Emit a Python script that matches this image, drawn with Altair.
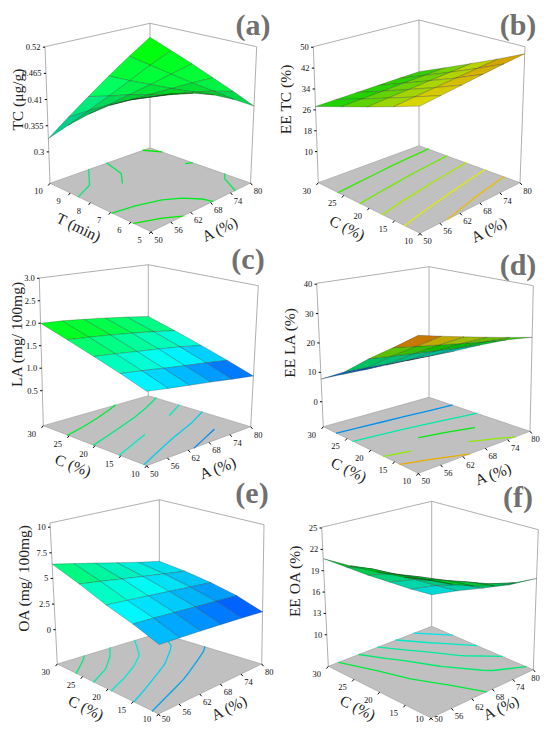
import math
import altair as alt

# ---------------- values ----------------
A_vals = [50, 56, 62, 68, 74, 80]
T_vals = [5, 6, 7, 8, 9, 10]
C_vals = [10, 15, 20, 25, 30]

# response grids: rows = second factor (low -> high), columns = A (50 -> 80)
TC = [
    [0.495, 0.487, 0.472, 0.453, 0.427, 0.396],
    [0.475, 0.466, 0.456, 0.446, 0.432, 0.415],
    [0.448, 0.445, 0.442, 0.440, 0.437, 0.433],
    [0.414, 0.420, 0.427, 0.435, 0.443, 0.452],
    [0.374, 0.391, 0.409, 0.429, 0.450, 0.470],
    [0.328, 0.360, 0.392, 0.425, 0.457, 0.489],
]
EE_TC = [
    [43.4, 44.2, 45.0, 45.9, 46.7, 47.5],
    [39.4, 40.1, 40.7, 41.4, 42.1, 42.8],
    [35.4, 36.0, 36.5, 37.1, 37.6, 38.2],
    [31.4, 31.8, 32.2, 32.7, 33.1, 33.5],
    [27.3, 27.6, 27.9, 28.2, 28.5, 28.8],
]
LA = [
    [1.27, 1.20, 1.13, 1.06, 0.98, 0.90],
    [1.46, 1.40, 1.33, 1.26, 1.19, 1.11],
    [1.64, 1.59, 1.53, 1.47, 1.40, 1.31],
    [1.82, 1.78, 1.73, 1.67, 1.60, 1.51],
    [2.00, 1.97, 1.92, 1.86, 1.79, 1.71],
]
EE_LA = [
    [34.0, 31.8, 29.6, 27.4, 25.2, 23.0],
    [27.5, 26.0, 24.5, 23.0, 21.5, 20.0],
    [21.0, 20.0, 19.0, 18.0, 17.0, 16.0],
    [13.6, 13.2, 12.7, 12.3, 11.8, 11.4],
    [7.7, 7.6, 7.4, 7.3, 7.1, 7.0],
]
OA = [
    [3.20, 2.95, 2.70, 2.42, 2.12, 1.80],
    [4.02, 3.78, 3.52, 3.25, 2.98, 2.70],
    [4.70, 4.45, 4.18, 3.90, 3.60, 3.30],
    [5.60, 5.25, 4.88, 4.50, 4.12, 3.75],
    [6.40, 5.95, 5.48, 5.00, 4.50, 4.05],
]
EE_OA = [
    [23.0, 21.6, 20.4, 19.4, 18.8, 18.3],
    [22.2, 21.0, 19.9, 18.7, 17.4, 16.2],
    [21.6, 20.3, 19.1, 17.6, 16.0, 14.4],
    [21.1, 19.8, 18.2, 16.4, 14.5, 12.6],
    [20.7, 18.7, 16.6, 14.6, 12.5, 10.5],
]

z_ticks_a = [0.3, 0.355, 0.41, 0.465, 0.52]
z_ticks_b = [10, 18, 26, 34, 42, 50]
z_ticks_c = [0.5, 1.0, 1.5, 2.0, 2.5, 3.0]
z_ticks_d = [0, 10, 20, 30, 40]
z_ticks_e = [0, 2.5, 5, 7.5, 10]
z_ticks_f = [10, 13, 16, 19, 22, 25]
z_labels_a = ["0.3", "0.355", "0.41", "0.465", "0.52"]
z_labels_b = ["10", "18", "26", "34", "42", "50"]
z_labels_c = ["0.5", "1.0", "1.5", "2.0", "2.5", "3.0"]
z_labels_d = ["0", "10", "20", "30", "40"]
z_labels_e = ["0", "2.5", "5", "7.5", "10"]
z_labels_f = ["10", "13", "16", "19", "22", "25"]

levels_a = [0.36, 0.39, 0.42, 0.45, 0.478]
levels_b = [30.5, 34.0, 37.5, 41.0, 44.5]
levels_c = [1.83, 1.65, 1.47, 1.29, 1.11]
levels_d = [11.0, 15.5, 20.0, 24.5, 29.0]
levels_e = [5.8, 5.2, 4.6, 4.0, 3.4]
levels_f = [12.2, 14.0, 15.8, 17.7, 19.7]

# ---------------- view (projection) of each panel, page pixels ----------------
panels = [
    dict(tag="(a)", grid=TC, sec=T_vals, sec_title="T (min)", z_title="TC (\u03bcg/g)",
         zt=z_ticks_a, zl=z_labels_a, zr=(0.234, 0.521), cr=(0.139, 0.814), lev=levels_a,
         floor=[(151.0, 231.7), (250.5, 183.0), (150.0, 147.8), (50.0, 183.3)],
         top=[(152.0, 83.7), (256.7, 46.7), (150.0, 23.3), (45.0, 46.7)],
         tag_xy=(253, 26)),
    dict(tag="(b)", grid=EE_TC, sec=C_vals, sec_title="C (%)", z_title="EE TC (%)",
         zt=z_ticks_b, zl=z_labels_b, zr=(-1.9, 50.2), cr=(-1.2, 56.0), lev=levels_b,
         floor=[(420.0, 233.3), (520.0, 182.7), (419.0, 145.7), (318.3, 182.7)],
         top=[(420.0, 87.0), (525.0, 46.7), (419.0, 20.0), (313.3, 46.7)],
         tag_xy=(518, 26)),
    dict(tag="(c)", grid=LA, sec=C_vals, sec_title="C (%)", z_title="LA (mg/ 100mg)",
         zt=z_ticks_c, zl=z_labels_c, zr=(-0.279, 3.006), cr=(0.75, 3.2), lev=levels_c,
         floor=[(146.7, 465.7), (250.7, 426.7), (148.3, 395.7), (43.3, 425.7)],
         top=[(146.7, 308.0), (258.3, 285.7), (148.3, 264.7), (39.3, 278.0)],
         tag_xy=(248, 260)),
    dict(tag="(d)", grid=EE_LA, sec=C_vals, sec_title="C (%)", z_title="EE LA (%)",
         zt=z_ticks_d, zl=z_labels_d, zr=(-8.5, 40.3), cr=(6.8, 34.0), lev=levels_d,
         floor=[(418.3, 473.3), (530.0, 431.3), (429.0, 397.3), (323.3, 426.7)],
         top=[(418.3, 314.9), (533.3, 285.7), (429.0, 266.7), (316.7, 283.3)],
         tag_xy=(518, 266)),
    dict(tag="(e)", grid=OA, sec=C_vals, sec_title="C (%)", z_title="OA (mg/ 100mg)",
         zt=z_ticks_e, zl=z_labels_e, zr=(-3.35, 10.41), cr=(1.2, 13.6), lev=levels_e,
         floor=[(158.5, 714.0), (261.7, 664.0), (159.3, 633.0), (57.3, 664.0)],
         top=[(160.0, 568.0), (264.0, 524.7), (159.3, 499.7), (50.0, 523.0)],
         tag_xy=(252, 494)),
    dict(tag="(f)", grid=EE_OA, sec=C_vals, sec_title="C (%)", z_title="EE OA (%)",
         zt=z_ticks_f, zl=z_labels_f, zr=(5.57, 25.1), cr=(2.7, 41.7), lev=levels_f,
         floor=[(431.0, 718.0), (533.3, 669.7), (431.7, 626.3), (328.3, 666.3)],
         top=[(431.0, 564.0), (538.3, 529.7), (431.7, 501.3), (321.7, 527.3)],
         tag_xy=(518, 498)),
]

SERIF = "Liberation Serif"
YMAX = 718.5   # lowest text centre that still fits the page
XMAX = 535.5   # rightmost small-label centre that still fits the page


def bil(c, u, v):
    F, R, B, L = c
    x = (1 - u) * (1 - v) * F[0] + u * (1 - v) * R[0] + u * v * B[0] + (1 - u) * v * L[0]
    y = (1 - u) * (1 - v) * F[1] + u * (1 - v) * R[1] + u * v * B[1] + (1 - u) * v * L[1]
    return x, y


def proj(p, u, v, w):
    b = bil(p["floor"], u, v)
    t = bil(p["top"], u, v)
    return [round(b[0] + w * (t[0] - b[0]), 2), round(b[1] + w * (t[1] - b[1]), 2)]


def cmap(t):
    stops = [(0.0, (0, 0, 255)), (0.25, (0, 255, 255)), (0.5, (0, 255, 0)),
             (0.75, (255, 255, 0)), (1.0, (255, 0, 0))]
    t = max(0.0, min(1.0, t))
    for (t0, c0), (t1, c1) in zip(stops, stops[1:]):
        if t <= t1:
            f = (t - t0) / (t1 - t0)
            return [c0[k] + (c1[k] - c0[k]) * f for k in range(3)]
    return list(stops[-1][1])


def hexcol(rgb, b=1.0):
    return "#" + "".join("%02x" % int(max(0, min(255, round(c * b)))) for c in rgb)


def poly(pts, **props):
    ring = [list(p) for p in pts] + [list(pts[0])]
    return {"type": "Feature", "geometry": {"type": "Polygon", "coordinates": [ring]},
            "properties": props}


def line(pts, **props):
    return {"type": "Feature", "geometry": {"type": "LineString", "coordinates": [list(p) for p in pts]},
            "properties": props}


def contour_lines(grid, level):
    nv, nu = len(grid), len(grid[0])
    segs = []

    def xing(pa, va, pb, vb):
        f = (level - va) / (vb - va)
        return (pa[0] + f * (pb[0] - pa[0]), pa[1] + f * (pb[1] - pa[1]))

    for i in range(nv - 1):
        for j in range(nu - 1):
            cs = [((j, i), grid[i][j]), ((j + 1, i), grid[i][j + 1]),
                  ((j + 1, i + 1), grid[i + 1][j + 1]), ((j, i + 1), grid[i + 1][j])]
            pts = {}
            for e in range(4):
                (pa, va), (pb, vb) = cs[e], cs[(e + 1) % 4]
                if (va - level) * (vb - level) < 0:
                    pts[e] = xing(pa, va, pb, vb)
            if len(pts) == 2:
                a, b = list(pts.values())
                segs.append([a, b])
            elif len(pts) == 4:
                center = sum(c[1] for c in cs) / 4.0
                if (center - level) * (cs[0][1] - level) > 0:
                    segs += [[pts[0], pts[1]], [pts[2], pts[3]]]
                else:
                    segs += [[pts[3], pts[0]], [pts[1], pts[2]]]

    def close(a, b):
        return abs(a[0] - b[0]) < 1e-6 and abs(a[1] - b[1]) < 1e-6

    out = []
    while segs:
        ln = segs.pop(0)
        changed = True
        while changed:
            changed = False
            for k, s in enumerate(segs):
                if close(s[0], ln[-1]):
                    ln.append(s[1])
                elif close(s[1], ln[-1]):
                    ln.append(s[0])
                elif close(s[1], ln[0]):
                    ln.insert(0, s[0])
                elif close(s[0], ln[0]):
                    ln.insert(0, s[1])
                else:
                    continue
                segs.pop(k)
                changed = True
                break
        out.append(ln)
    return out


floors, boxes, contours, ticks, quads = [], [], [], [], []
tick_txt, z_txt, titles, tags = [], [], [], []

view = (-0.64, -0.64, 0.42)
vn = math.sqrt(sum(c * c for c in view))
view = tuple(c / vn for c in view)

for p in panels:
    g = p["grid"]
    sec = p["sec"]
    nv, nu = len(g), len(g[0])
    zmin, zmax = p["zr"]
    cmin, cmax = p["cr"]
    us = [(a - A_vals[0]) / (A_vals[-1] - A_vals[0]) for a in A_vals]
    vs = [(s - sec[0]) / (sec[-1] - sec[0]) for s in sec]
    W = lambda z: (z - zmin) / (zmax - zmin)

    # floor and box frame
    floors.append(poly([proj(p, 0, 0, 0), proj(p, 1, 0, 0), proj(p, 1, 1, 0), proj(p, 0, 1, 0)]))
    boxes.append(line([proj(p, 0, 1, 0), proj(p, 0, 1, 1)]))
    boxes.append(line([proj(p, 1, 1, 0), proj(p, 1, 1, 1)]))
    boxes.append(line([proj(p, 1, 0, 0), proj(p, 1, 0, 1)]))
    boxes.append(line([proj(p, 0, 1, 1), proj(p, 1, 1, 1), proj(p, 1, 0, 1)]))

    # contours on the floor
    for lev in p["lev"]:
        col = hexcol(cmap((lev - cmin) / (cmax - cmin)), 0.92)
        for ln in contour_lines(g, lev):
            pts = []
            for (jj, ii) in ln:
                u = jj / (nu - 1)
                v = ii / (nv - 1)
                pts.append(proj(p, u, v, 0))
            contours.append(line(pts, color=col))

    # floor ticks + labels
    F = proj(p, 0, 0, 0)
    R = proj(p, 1, 0, 0)
    L = proj(p, 0, 1, 0)
    for a, u in zip(A_vals, us):
        q = proj(p, u, 0, 0)
        ticks.append(line([q, [q[0] + 1.8, q[1] + 2.2]]))
        tick_txt.append({"x": min(q[0] + 7.5, XMAX), "y": min(q[1] + 8.0, YMAX), "t": str(a)})
    for s, v in zip(sec, vs):
        q = proj(p, 0, v, 0)
        ticks.append(line([q, [q[0] - 1.8, q[1] + 2.2]]))
        tick_txt.append({"x": q[0] - 11.5, "y": min(q[1] + 8.0, YMAX), "t": str(s)})

    # vertical axis ticks + labels
    ys = []
    for zt, zl in zip(p["zt"], p["zl"]):
        q = proj(p, 0, 1, W(zt))
        ys.append(q[1])
        ticks.append(line([q, [q[0] - 2.2, q[1]]]))
        z_txt.append({"x": q[0] - 4.5, "y": q[1], "t": zl})

    # titles
    angL = math.degrees(math.atan2(F[1] - L[1], F[0] - L[0]))
    angR = math.degrees(math.atan2(R[1] - F[1], R[0] - F[0])) % 360
    titles.append({"x": (L[0] + F[0]) / 2 - 22, "y": min((L[1] + F[1]) / 2 + 20, 708),
                   "t": p["sec_title"], "ang": angL})
    titles.append({"x": (F[0] + R[0]) / 2 + 19, "y": min((F[1] + R[1]) / 2 + 22, 708),
                   "t": "A (%)", "ang": angR})
    zx = max(proj(p, 0, 1, 0.5)[0] - 30, 17)
    titles.append({"x": zx, "y": sum(ys) / len(ys), "t": p["z_title"], "ang": 270})
    tags.append({"x": p["tag_xy"][0], "y": p["tag_xy"][1], "t": p["tag"]})

    # response surface quads, painted far -> near
    cells = []
    for i in range(nv - 1):
        for j in range(nu - 1):
            c3 = [(us[j], vs[i], g[i][j]), (us[j + 1], vs[i], g[i][j + 1]),
                  (us[j + 1], vs[i + 1], g[i + 1][j + 1]), (us[j], vs[i + 1], g[i + 1][j])]
            pts = [proj(p, cu, cv, W(cz)) for (cu, cv, cz) in c3]
            P3 = [(cu, cv, 1.2 * W(cz)) for (cu, cv, cz) in c3]
            e1 = [P3[2][k] - P3[0][k] for k in range(3)]
            e2 = [P3[3][k] - P3[1][k] for k in range(3)]
            n = [e1[1] * e2[2] - e1[2] * e2[1], e1[2] * e2[0] - e1[0] * e2[2], e1[0] * e2[1] - e1[1] * e2[0]]
            nn = math.sqrt(sum(c * c for c in n)) or 1.0
            dot = abs(sum(n[k] / nn * view[k] for k in range(3)))
            bright = 0.72 + 0.28 * min(1.0, dot / 0.5)
            zavg = sum(c[2] for c in c3) / 4.0
            fill = hexcol(cmap((zavg - cmin) / (cmax - cmin)), bright)
            depth = (us[j] + us[j + 1] + vs[i] + vs[i + 1]) / 2.0
            cells.append((depth, poly(pts, fill=fill)))
    cells.sort(key=lambda c: -c[0])
    quads += [c[1] for c in cells]

PROJ = dict(type="identity", scale=1, translate=[-8, -8])

floor_layer = alt.Chart(alt.Data(values=floors)).mark_geoshape(
    fill="#c0c0c0", stroke="#9c9c9c", strokeWidth=0.6).project(**PROJ)
box_layer = alt.Chart(alt.Data(values=boxes)).mark_geoshape(
    filled=False, stroke="#9a9a9a", strokeWidth=0.8).project(**PROJ)
contour_layer = alt.Chart(alt.Data(values=contours)).mark_geoshape(
    filled=False, strokeWidth=1.3, strokeCap="round", strokeJoin="round").encode(
    stroke=alt.Stroke("properties.color:N", scale=None)).project(**PROJ)
tick_layer = alt.Chart(alt.Data(values=ticks)).mark_geoshape(
    filled=False, stroke="#000000", strokeWidth=1.0).project(**PROJ)
surface_layer = alt.Chart(alt.Data(values=quads)).mark_geoshape(
    stroke="#1c1c1c", strokeWidth=0.45, strokeOpacity=0.55).encode(
    fill=alt.Fill("properties.fill:N", scale=None)).project(**PROJ)

tick_text = alt.Chart(alt.Data(values=tick_txt)).mark_text(
    font=SERIF, fontSize=8.5, color="#111111", align="center", baseline="middle").encode(
    longitude="x:Q", latitude="y:Q", text="t:N").project(**PROJ)
z_text = alt.Chart(alt.Data(values=z_txt)).mark_text(
    font=SERIF, fontSize=8.5, color="#111111", align="right", baseline="middle").encode(
    longitude="x:Q", latitude="y:Q", text="t:N").project(**PROJ)
title_text = alt.Chart(alt.Data(values=titles)).mark_text(
    font=SERIF, fontSize=15.5, color="#222222", align="center", baseline="middle").encode(
    longitude="x:Q", latitude="y:Q", text="t:N", angle=alt.Angle("ang:Q", scale=None)).project(**PROJ)
tag_text = alt.Chart(alt.Data(values=tags)).mark_text(
    font=SERIF, fontSize=30, fontWeight="bold", color="#707070", align="center", baseline="middle").encode(
    longitude="x:Q", latitude="y:Q", text="t:N").project(**PROJ)

chart = alt.layer(
    floor_layer, contour_layer, box_layer, tick_layer, surface_layer,
    tick_text, z_text, title_text, tag_text,
).properties(width=534, height=716, padding=0).configure_view(stroke=None)

chart.save("out.html", embed_options={"renderer": "svg", "actions": False})
